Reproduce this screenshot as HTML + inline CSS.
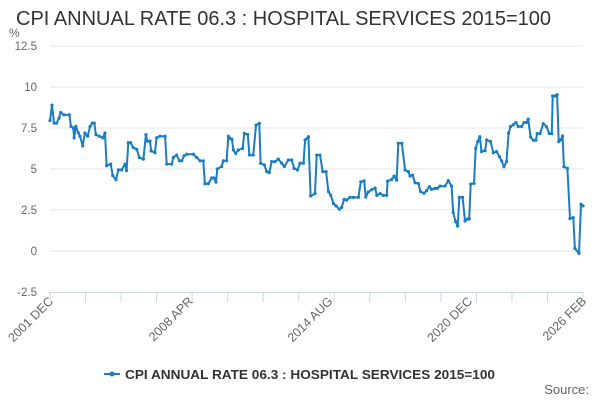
<!DOCTYPE html>
<html><head><meta charset="utf-8"><style>
body{margin:0;background:#fff;font-family:"Liberation Sans",sans-serif}
svg{display:block}
</style></head><body>
<svg id="chart" width="600" height="400" xmlns="http://www.w3.org/2000/svg">
<text x="16" y="25" font-size="20" fill="#333" textLength="535" lengthAdjust="spacingAndGlyphs">CPI ANNUAL RATE 06.3 : HOSPITAL SERVICES 2015=100</text>
<text x="9" y="37" font-size="12" fill="#666">%</text>
<g id="grid"></g><g id="xaxis"></g><g id="series"></g>
<g>
<line x1="104" y1="374" x2="120" y2="374" stroke="#1a7cc1" stroke-width="2"/>
<circle cx="112" cy="374" r="2.5" fill="#1a7cc1"/>
<text x="125" y="379" font-size="13" font-weight="bold" fill="#333" textLength="370" lengthAdjust="spacingAndGlyphs">CPI ANNUAL RATE 06.3 : HOSPITAL SERVICES 2015=100</text>
</g>
<text x="589" y="394" font-size="13" fill="#666" text-anchor="end">Source:</text>
</svg>
<script>
const months=[0,1.1,2.2,3.6,4.9,5.8,7.6,10.5,11.4,12.7,13.1,14.1,15.4,16.3,17.8,19.0,20.5,21.8,23.0,24.1,25.0,26.8,28.7,29.9,30.8,33.0,34.1,35.9,37.2,39.0,40.8,41.7,42.6,43.9,45.3,47.2,48.6,50.8,52.2,52.9,54.4,55.0,57.1,58.0,59.8,62.6,63.5,66.2,67.1,68.9,70.4,71.7,72.9,74.4,78.0,79.8,81.6,83.4,84.3,86.1,88.0,89.2,90.3,91.0,93.4,94.3,96.1,97.0,
97.9,99.0,99.8,101.0,102.5,104.8,105.7,107.6,108.5,110.6,112.1,113.9,114.6,116.6,117.9,119.3,120.6,122.4,124.2,126.1,127.5,129.7,131.5,132.8,134.6,136.0,137.9,138.8,140.6,141.8,144.2,145.1,146.9,148.4,150.2,151.5,152.7,154.2,155.6,157.4,158.7,160.0,161.4,163.2,165.1,167.8,169.1,170.9,171.8,173.2,175.0,176.9,177.8,179.6,181.4,183.2,183.7,185.9,187.2,188.6,189.5,191.4,193.2,195.0,195.9,
197.3,198.6,200.4,201.6,203.5,204.9,206.4,207.6,209.4,210.7,212.2,214.9,216.7,218.5,219.4,220.7,221.8,222.7,224.5,225.8,227.2,228.1,228.9,230.7,231.6,232.7,233.9,234.8,236.7,237.6,239.7,241.2,243.0,244.5,245.7,247.0,248.4,249.5,250.6,252.1,253.5,254.8,256.6,257.9,259.3,260.2,261.5,263.0,264.4,265.1,266.6,268.4,270.2,271.7,273.0,273.5,274.8,275.9,276.8,277.8,278.9,279.6,281.5,282.9,284.7,285.6,287.8,288.9,290];
const values=[7.95,8.9,7.8,7.8,8.1,8.45,8.3,8.3,7.6,7.5,6.9,7.6,7.2,7.0,6.4,7.2,7.0,7.6,7.8,7.8,7.1,7.0,6.9,7.2,5.2,5.3,4.6,4.35,4.95,4.95,5.3,4.9,6.6,6.6,6.3,6.2,5.7,5.6,7.1,6.7,6.7,6.1,6.0,6.9,7.0,7.0,5.3,5.3,5.7,5.85,5.5,5.5,5.8,5.9,5.9,5.7,5.5,5.5,4.1,4.1,4.45,4.45,4.2,5.0,5.15,5.5,5.5,7.0,
6.87,6.8,6.16,5.95,6.16,6.26,7.17,7.1,5.85,5.85,7.68,7.78,5.35,5.25,4.84,4.78,5.45,5.45,5.6,5.35,5.15,5.55,5.55,5.04,4.94,5.35,5.35,6.77,6.97,3.35,3.5,5.85,5.85,4.84,4.84,3.62,3.41,2.9,2.75,2.55,2.66,3.15,3.1,3.27,3.27,3.27,4.22,4.28,3.29,3.6,3.74,3.84,3.39,3.5,3.39,3.39,4.26,4.36,4.57,4.32,6.57,6.57,4.94,4.84,4.57,
4.63,4.16,4.12,3.62,3.52,3.68,3.92,3.76,3.82,3.82,3.96,3.96,4.29,3.96,2.34,1.79,1.52,3.27,3.27,1.83,1.95,1.95,4.08,4.12,6.26,6.67,6.97,6.06,6.12,6.77,6.67,5.99,6.06,5.75,5.5,5.14,5.45,7.18,7.59,7.7,7.84,7.59,7.59,7.84,7.84,8.04,6.95,6.75,6.75,7.16,7.16,7.77,7.57,7.16,7.16,9.45,9.45,9.53,6.67,6.77,7.01,5.14,5.04,1.98,2.04,0.16,-0.15,2.85,2.75];
const yTicks=[12.5,10,7.5,5,2.5,0,-2.5];
const yTickLabels=["12.5","10","7.5","5","2.5","0","-2.5"];
const xLabelMonths=[0,76,152,228,290];
const xLabels=["2001 DEC","2008 APR","2014 AUG","2020 DEC","2026 FEB"];
const X0=50,X1=583,Y0=46,Y1=292,MMAX=290,VMIN=-2.5,VMAX=12.5;
const sx=m=>X0+(X1-X0)*m/MMAX;
const sy=v=>Y1-(Y1-Y0)*(v-VMIN)/(VMAX-VMIN);
const NS="http://www.w3.org/2000/svg";
function mk(t,a,p){const e=document.createElementNS(NS,t);for(const k in a)e.setAttribute(k,a[k]);p.appendChild(e);return e;}
const grid=document.getElementById('grid');
yTicks.forEach((v,i)=>{
 if(v!==VMIN){const l=mk('line',{x1:X0,x2:X1,y1:sy(v),y2:sy(v),stroke:'#e6e6e6','stroke-width':1},grid);
 
 }
 const t=mk('text',{x:37,y:sy(v)+4,'font-size':11.5,fill:'#666','text-anchor':'end'},grid);
 t.textContent=yTickLabels[i];
 
 
});
const xa=document.getElementById('xaxis');
const ax=mk('line',{x1:X0,x2:X1,y1:Y1+0.5,y2:Y1+0.5,stroke:'#ccd6eb','stroke-width':1},xa);


for(let k=0;k<=15;k++){const m=MMAX*k/15;
 const tk=mk('line',{x1:sx(m),x2:sx(m),y1:Y1,y2:Y1+10,stroke:'#ccd6eb','stroke-width':1},xa);
 
 }
xLabelMonths.forEach((m,i)=>{const x=sx(m)+4,y=Y1+10;
 const t=mk('text',{x:x,y:y,'font-size':12.5,fill:'#666','text-anchor':'end',transform:`rotate(-45 ${x} ${y})`},xa);
 t.textContent=xLabels[i];
 
 });
const s=document.getElementById('series');
const pts=months.map((m,i)=>sx(m).toFixed(1)+','+sy(values[i]).toFixed(1)).join(' ');
const pl=mk('polyline',{points:pts,fill:'none',stroke:'#1a7cc1','stroke-width':2,'stroke-linejoin':'round'},s);


months.forEach((m,i)=>{const c=mk('circle',{cx:sx(m),cy:sy(values[i]),r:1.6,fill:'#1a7cc1'},s);
 
 });
</script>
</body></html>
